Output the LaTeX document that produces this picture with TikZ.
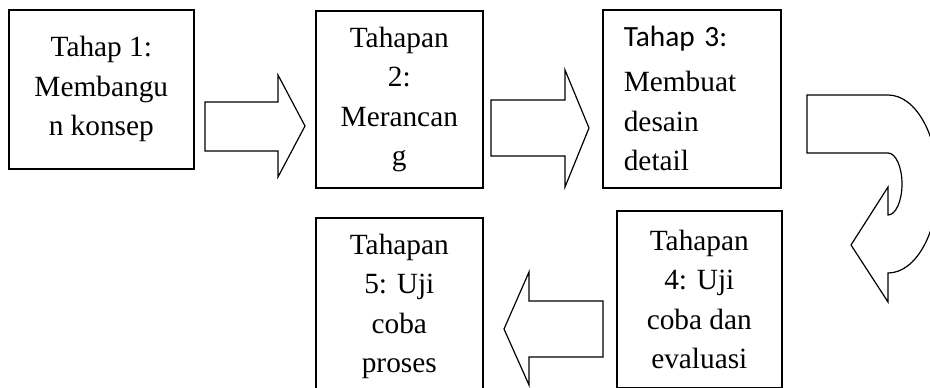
\documentclass[tikz,border=0pt]{standalone}
\usepackage{fontspec}
\setmainfont{Liberation Serif}
\newfontfamily\calibrifont{Carlito}
\usetikzlibrary{positioning}

\begin{document}
\begin{tikzpicture}[x=0.75pt, y=-0.75pt]

\definecolor{my_black}{RGB}{0,0,0}

\tikzstyle{block} = [rectangle, draw=my_black, line width=1.2pt, anchor=north west, align=center, inner sep=0pt, font=\fontsize{22}{29.6}\selectfont]
\tikzstyle{blockarrow} = [draw=my_black, line width=0.9pt, line join=miter, fill=white]

	\clip (0,0) rectangle (930,388);

	\node [block, minimum width=138.75pt, minimum height=119.25pt] (tahap1) at (8,9) {Tahap 1:\\Membangu\\n konsep};

	\node [block, minimum width=125.25pt, minimum height=132.75pt] (tahap2) at (315,10) {Tahapan\\2:\\Merancan\\g};

	\node [block, minimum width=133.5pt, minimum height=133.5pt, align=left, text width=102pt, inner xsep=15.75pt] (tahap3) at (602,9) {{\calibrifont Tahap 3:}\\[4pt]Membuat\\desain\\detail};

	\node [block, minimum width=123.75pt, minimum height=132.75pt] (tahap4) at (616,210) {Tahapan\\4: Uji\\coba dan\\evaluasi};

	\node [block, minimum width=125.25pt, minimum height=132.75pt] (tahap5) at (315,217) {Tahapan\\5: Uji\\coba\\proses};

	% panah 1 -> 2
	\path [blockarrow] (205,102) -- (278,102) -- (278,75) -- (305,126) -- (278,177) -- (278,151) -- (205,151) -- cycle;
	% panah 2 -> 3
	\path [blockarrow] (491,100) -- (565,100) -- (565,70) -- (589,128) -- (565,187) -- (565,156) -- (491,156) -- cycle;
	% panah 3 -> 4 (melengkung)
	\path [blockarrow] (807,95) -- (888,95) .. controls (915.6,95) and (938,134.8) .. (938,184)
		.. controls (938,233.2) and (915.6,273) .. (888,273) -- (888,302) -- (851,245) -- (888,187) -- (888,215)
		.. controls (895.7,215) and (902,201.1) .. (902,184) .. controls (902,166.9) and (895.7,153) .. (888,153)
		-- (807,153) -- cycle;
	% panah 4 -> 5
	\path [blockarrow] (603,301) -- (529,301) -- (529,272) -- (504,329) -- (529,385) -- (529,357) -- (603,357) -- cycle;

\end{tikzpicture}
\end{document}
